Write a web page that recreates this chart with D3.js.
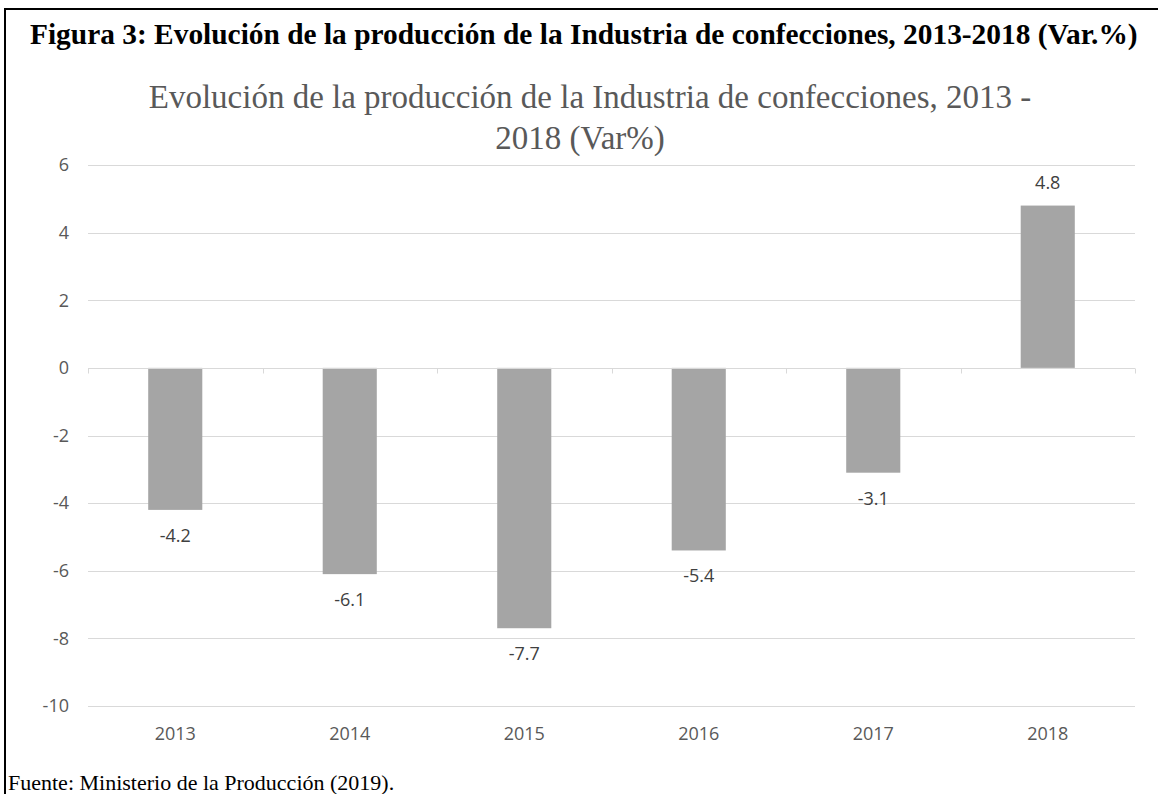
<!DOCTYPE html>
<html>
<head>
<meta charset="utf-8">
<script src="https://cdn.jsdelivr.net/npm/d3@7"></script>
<style>
  body { margin: 0; background: #fff; }
</style>
</head>
<body>
<script>
// data
var years  = ["2013", "2014", "2015", "2016", "2017", "2018"];
var values = [-4.2, -6.1, -7.7, -5.4, -3.1, 4.8];
var yTicks = [6, 4, 2, 0, -2, -4, -6, -8, -10];

var width = 1158, height = 794;
var plot = {left: 88, right: 1135, top: 165, bottom: 706};

var svg = d3.select("body").append("svg")
    .attr("width", width)
    .attr("height", height);

// frame of the figure (only top and left visible)
svg.append("line")
    .attr("x1", 4).attr("x2", width)
    .attr("y1", 9).attr("y2", 9)
    .style("stroke", "#000").style("stroke-width", 2);
svg.append("line")
    .attr("x1", 5).attr("x2", 5)
    .attr("y1", 8).attr("y2", height)
    .style("stroke", "#000").style("stroke-width", 2);

svg.append("text")
    .attr("x", 30)
    .attr("y", 44)
    .style("font-family", "'Liberation Serif', 'Times New Roman', serif")
    .style("font-weight", "bold")
    .style("font-size", "29.4px")
    .style("fill", "#000")
    .text("Figura 3: Evolución de la producción de la Industria de confecciones, 2013-2018 (Var.%)");

// chart title
var title = svg.append("text")
    .attr("text-anchor", "middle")
    .style("font-family", "'Liberation Serif', 'Times New Roman', serif")
    .style("font-size", "33px")
    .style("fill", "#595959");
title.append("tspan").attr("x", 590).attr("y", 108).text("Evolución de la producción de la Industria de confecciones, 2013 -");
title.append("tspan").attr("x", 580).attr("y", 149).text("2018 (Var%)");

var x = d3.scaleBand()
    .domain(years)
    .range([plot.left, plot.right])
    .paddingInner(0.69)
    .paddingOuter(0.345);

var y = d3.scaleLinear()
    .domain([-10, 6])
    .range([plot.bottom, plot.top]);

// gridlines
svg.append("g")
    .selectAll("line")
    .data(yTicks)
    .enter().append("line")
    .attr("x1", plot.left).attr("x2", plot.right)
    .attr("y1", function(d) { return Math.round(y(d)) + 0.5; })
    .attr("y2", function(d) { return Math.round(y(d)) + 0.5; })
    .style("stroke", "#d9d9d9")
    .style("stroke-width", 1);

// y axis labels (plain hyphen for negatives, like the original)
var yAxis = d3.axisLeft(y)
    .tickValues(yTicks)
    .tickFormat(function(d) { return String(d); })
    .tickSize(0)
    .tickPadding(19);
var gy = svg.append("g")
    .attr("transform", "translate(" + plot.left + ",0)")
    .call(yAxis);
gy.select(".domain").remove();
gy.selectAll("text")
    .style("font-family", "'Open Sans', 'DejaVu Sans', sans-serif")
    .style("font-size", "18px")
    .style("fill", "#595959");

// bars
svg.append("g")
    .selectAll("rect")
    .data(values)
    .enter().append("rect")
    .attr("x", function(d, i) { return x(years[i]); })
    .attr("width", x.bandwidth())
    .attr("y", function(d) { return y(Math.max(0, d)); })
    .attr("height", function(d) { return Math.abs(y(d) - y(0)); })
    .style("fill", "#a5a5a5");

// zero axis with ticks between categories
var step = x.step();
var zy = Math.round(y(0)) + 0.5;
svg.append("line")
    .attr("x1", plot.left).attr("x2", plot.right)
    .attr("y1", zy).attr("y2", zy)
    .style("stroke", "#d9d9d9");
svg.append("g")
    .selectAll("line")
    .data(d3.range(years.length + 1))
    .enter().append("line")
    .attr("x1", function(i) { return Math.round(plot.left + i * step) + 0.5; })
    .attr("x2", function(i) { return Math.round(plot.left + i * step) + 0.5; })
    .attr("y1", zy).attr("y2", zy + 5)
    .style("stroke", "#d9d9d9");

// data labels
svg.append("g")
    .selectAll("text")
    .data(values)
    .enter().append("text")
    .attr("x", function(d, i) { return x(years[i]) + x.bandwidth() / 2; })
    .attr("y", function(d) { return d < 0 ? y(d) + 32 : y(d) - 17; })
    .attr("text-anchor", "middle")
    .style("font-family", "'Open Sans', 'DejaVu Sans', sans-serif")
    .style("font-size", "18px")
    .style("fill", "#404040")
    .text(function(d) { return d.toFixed(1); });

// category labels
var xAxis = d3.axisBottom(x).tickSize(0).tickPadding(0);
var gx = svg.append("g")
    .attr("transform", "translate(0," + plot.bottom + ")")
    .call(xAxis);
gx.select(".domain").remove();
gx.selectAll("text")
    .attr("dy", null)
    .attr("y", 34)
    .style("font-family", "'Open Sans', 'DejaVu Sans', sans-serif")
    .style("font-size", "18px")
    .style("fill", "#595959");

// source
svg.append("text")
    .attr("x", 8)
    .attr("y", 790)
    .style("font-family", "'Liberation Serif', 'Times New Roman', serif")
    .style("font-size", "22px")
    .style("fill", "#000")
    .text("Fuente: Ministerio de la Producción (2019).");
</script>
</body>
</html>
